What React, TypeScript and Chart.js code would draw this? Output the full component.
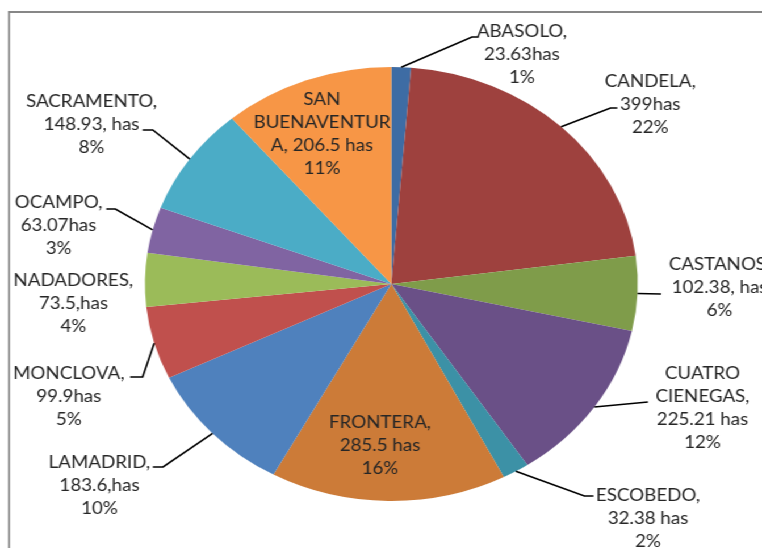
import React, { useEffect, useRef } from "react";
import { Chart, registerables } from "chart.js";

Chart.register(...registerables);

// ---- data ----
const categories = [
  "ABASOLO", "CANDELA", "CASTANOS", "CUATRO CIENEGAS", "ESCOBEDO", "FRONTERA",
  "LAMADRID", "MONCLOVA", "NADADORES", "OCAMPO", "SACRAMENTO", "SAN BUENAVENTURA",
];
const hectares = [23.63, 399, 102.38, 225.21, 32.38, 285.5, 183.6, 99.9, 73.5, 63.07, 148.93, 206.5];
const labelLines = [
  ["ABASOLO,", "23.63has", "1%"],
  ["CANDELA,", "399has", "22%"],
  ["CASTANOS,", "102.38, has", "6%"],
  ["CUATRO", "CIENEGAS,", "225.21 has", "12%"],
  ["ESCOBEDO,", "32.38 has", "2%"],
  ["FRONTERA,", "285.5 has", "16%"],
  ["LAMADRID,", "183.6,has", "10%"],
  ["MONCLOVA,", "99.9has", "5%"],
  ["NADADORES,", "73.5,has", "4%"],
  ["OCAMPO,", "63.07has", "3%"],
  ["SACRAMENTO,", "148.93, has", "8%"],
  ["SAN", "BUENAVENTUR", "A, 206.5 has", "11%"],
];

// ---- style / layout ----
const colors = [
  "#3E6CA4", "#9E413E", "#7F9C4A", "#6A5087", "#3C91A6", "#CC7B38",
  "#4F81BD", "#C0504D", "#9BBB59", "#8064A2", "#4BACC6", "#F79646",
];
const W = 671;
const H = 548;
const SX = 762 / W;
// label centre offsets relative to pie centre (unscaled px)
const labelOffsets = [
  [115, -229], [228, -179], [289, 4], [274, 124.5], [226, 235], [-10, 162],
  [-257, 202], [-284, 113], [-280, 20], [-293, -58], [-264, -159], [-61, -149.5],
];
// leader elbow and end relative to pie centre (null = no leader)
const leaders: (number[][] | null)[] = [
  [[71, -247], [77, -247]],
  [[193, -176], [199, -176]],
  [[237.5, 10], [237.5, 10]],
  [[226, 118], [226, 118]],
  [[170, 212], [178, 212]],
  null,
  [[-201, 183], [-210, 183]],
  [[-219, 93], [-230, 93]],
  null,
  [[-243, -75], [-251, -75]],
  [[-210, -154], [-219, -154]],
  null,
];
const LINE_H = 23;
const FONT = "16.5px Lato";

const excelLabels = {
  id: "excelLabels",
  beforeDraw(chart: any) {
    const ctx = chart.ctx;
    ctx.save();
    ctx.fillStyle = "#ffffff";
    ctx.fillRect(0, 0, W, H);
    ctx.fillStyle = "#878787";
    ctx.fillRect(8 / SX, 11, 2 / SX, H);
    ctx.fillRect(8 / SX, 11, W, 2);
    ctx.restore();
  },
  afterDatasetsDraw(chart: any) {
    const ctx = chart.ctx;
    const meta = chart.getDatasetMeta(0);
    ctx.save();
    meta.data.forEach((arc: any, i: number) => {
      const p = arc.getProps(["x", "y", "startAngle", "endAngle", "outerRadius"], true);
      const mid = (p.startAngle + p.endAngle) / 2;
      const lead = leaders[i];
      if (lead) {
        ctx.beginPath();
        ctx.strokeStyle = "#000000";
        ctx.lineWidth = 1.6;
        ctx.moveTo(p.x + Math.cos(mid) * p.outerRadius, p.y + Math.sin(mid) * p.outerRadius);
        ctx.lineTo(p.x + lead[0][0], p.y + lead[0][1]);
        ctx.lineTo(p.x + lead[1][0], p.y + lead[1][1]);
        ctx.stroke();
      }
      const lines = labelLines[i];
      const cx = p.x + labelOffsets[i][0];
      const cy = p.y + labelOffsets[i][1];
      ctx.font = FONT;
      ctx.fillStyle = "#262626";
      ctx.textAlign = "center";
      ctx.textBaseline = "middle";
      const top = cy - ((lines.length - 1) * LINE_H) / 2;
      lines.forEach((t, k) => ctx.fillText(t, cx, top + k * LINE_H));
    });
    ctx.restore();
  },
};

export default function App() {
  const ref = useRef<HTMLCanvasElement | null>(null);
  useEffect(() => {
    if (!ref.current) return;
    const chart = new Chart(ref.current, {
      type: "pie",
      data: {
        labels: categories,
        datasets: [
          {
            data: hectares,
            backgroundColor: colors,
            borderWidth: 0,
          },
        ],
      },
      options: {
        responsive: false,
        animation: false,
        layout: { padding: { left: 127.6, right: 109.4, top: 67, bottom: 47 } },
        plugins: { legend: { display: false }, tooltip: { enabled: false } },
      },
      plugins: [excelLabels],
    });
    return () => chart.destroy();
  }, []);
  return (
    <div
      style={{
        position: "fixed",
        left: 0,
        top: 0,
        width: W,
        height: H,
        transform: `scaleX(${SX})`,
        transformOrigin: "0 0",
        background: "#fff",
      }}
    >
      <canvas ref={ref} width={W} height={H} />
    </div>
  );
}
